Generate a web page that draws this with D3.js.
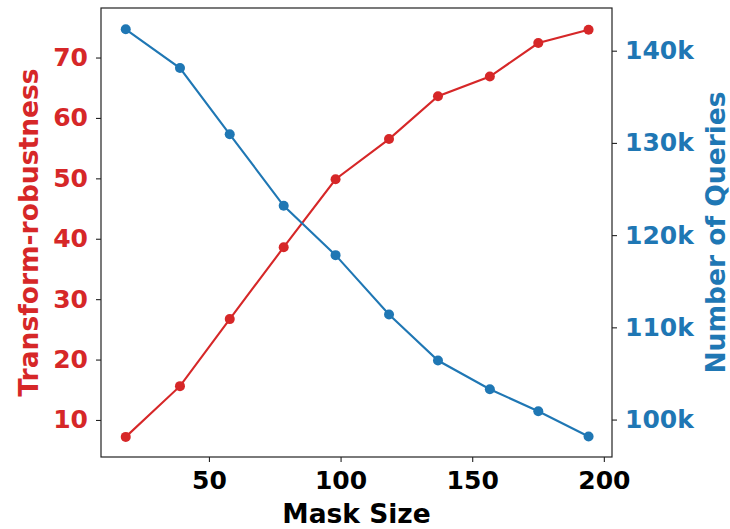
<!DOCTYPE html>
<html>
<head>
<meta charset="utf-8">
<script src="https://cdn.jsdelivr.net/npm/d3@7"></script>
<style>
  body { margin: 0; background: #fff; }
  text { font-family: "DejaVu Sans", sans-serif; font-weight: bold; }
</style>
</head>
<body>
<div id="chart"></div>
<script>
// mask sizes (x) and the two measured series
const maskSize = [18.4, 39, 57.9, 78.4, 98.1, 118.4, 137, 156.7, 175.1, 194.2];
const robustness = [7.2, 15.6, 26.7, 38.6, 49.85, 56.5, 63.6, 66.85, 72.4, 74.6];
const queries = [142320, 138120, 130930, 123180, 117830, 111390, 106400, 103290, 100900, 98160];

const xTicks = [50, 100, 150, 200];
const leftTicks = [10, 20, 30, 40, 50, 60, 70];
const rightTicks = [100000, 110000, 120000, 130000, 140000];

const red = "#d62728", blue = "#1f77b4";

var W = 730, H = 529;
var margin = {top: 8, right: 118, bottom: 72, left: 101},
    width = W - margin.left - margin.right,
    height = H - margin.top - margin.bottom;

var svg = d3.select("#chart")
  .append("svg")
    .attr("width", W)
    .attr("height", H)
  .append("g")
    .attr("transform", "translate(" + margin.left + "," + margin.top + ")");

var x = d3.scaleLinear().domain([9, 203.1]).range([0, width]);
var yL = d3.scaleLinear().domain([3.87, 78.2]).range([height, 0]);
var yR = d3.scaleLinear().domain([95940, 144630]).range([height, 0]);

// axes
var gx = svg.append("g")
  .attr("transform", "translate(0," + height + ")")
  .call(d3.axisBottom(x).tickValues(xTicks).tickSize(5).tickPadding(9));
gx.selectAll("text").attr("fill", "#000").attr("font-size", "25px");

var gl = svg.append("g")
  .call(d3.axisLeft(yL).tickValues(leftTicks).tickSize(5).tickPadding(8));
gl.selectAll("text").attr("fill", red).attr("font-size", "25px");

var gr = svg.append("g")
  .attr("transform", "translate(" + width + ",0)")
  .call(d3.axisRight(yR).tickValues(rightTicks).tickSize(5).tickPadding(8)
    .tickFormat(function(d) { return (d / 1000) + "k"; }));
gr.selectAll("text").attr("fill", blue).attr("font-size", "25px");

svg.selectAll(".domain").remove();
svg.selectAll(".tick line").attr("stroke", "#222").attr("stroke-width", 1.1);

// frame
svg.append("rect")
  .attr("width", width).attr("height", height)
  .attr("fill", "none").attr("stroke", "#222").attr("stroke-width", 1.2);

// lines
function drawSeries(vals, y, color) {
  var pts = maskSize.map(function(m, i) { return [m, vals[i]]; });
  svg.append("path")
    .datum(pts)
    .attr("fill", "none")
    .attr("stroke", color)
    .attr("stroke-width", 2.1)
    .attr("d", d3.line().x(function(d) { return x(d[0]); }).y(function(d) { return y(d[1]); }));
  svg.append("g").selectAll("circle")
    .data(pts)
    .enter().append("circle")
      .attr("cx", function(d) { return x(d[0]); })
      .attr("cy", function(d) { return y(d[1]); })
      .attr("r", 5)
      .attr("fill", color);
}
drawSeries(robustness, yL, red);
drawSeries(queries, yR, blue);

// axis titles
svg.append("text")
  .attr("x", width / 2).attr("y", 523 - margin.top)
  .attr("text-anchor", "middle")
  .attr("font-size", "26.5px")
  .attr("fill", "#000")
  .text("Mask Size");

svg.append("text")
  .attr("transform", "translate(" + (38 - margin.left) + "," + (height / 2) + ") rotate(-90)")
  .attr("text-anchor", "middle")
  .attr("font-size", "26.5px")
  .attr("fill", red)
  .text("Transform-robustness");

svg.append("text")
  .attr("transform", "translate(" + (725 - margin.left) + "," + (height / 2) + ") rotate(-90)")
  .attr("text-anchor", "middle")
  .attr("font-size", "26.5px")
  .attr("fill", blue)
  .text("Number of Queries");
</script>
</body>
</html>
